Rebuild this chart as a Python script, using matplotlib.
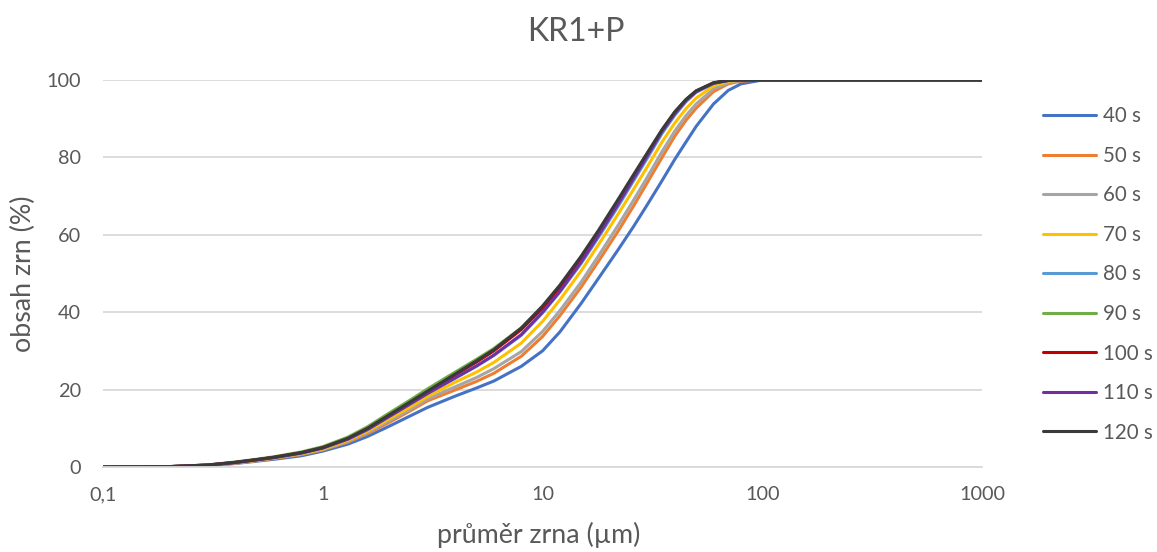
import matplotlib
matplotlib.use("Agg")
import matplotlib.pyplot as plt
from matplotlib.ticker import FixedLocator, FixedFormatter, NullLocator

plt.rcParams['font.family'] = ['Lato', 'DejaVu Sans']

title = "KR1+P"
x_label = "průměr zrna (µm)"
y_label = "obsah zrn (%)"

diameter = [0.1, 0.2, 0.3, 0.4, 0.5, 0.6, 0.8, 1, 1.3, 1.6, 2, 2.5, 3, 4, 5, 6, 8, 10,
            12, 15, 18, 22, 26, 30, 35, 40, 45, 50, 60, 70, 80, 100, 1000]

s40 = [0.0, 0.05, 0.35, 0.9, 1.5, 2.0, 2.9, 4.1, 5.9, 7.9, 10.5, 13.2, 15.4, 18.3, 20.4, 22.2, 26.0, 30.0,
       34.9, 42.3, 48.8, 56.0, 62.2, 67.8, 74.0, 79.5, 84.0, 88.0, 93.8, 97.3, 99.0, 100, 100]
s50 = [0.0, 0.07, 0.4, 1.0, 1.6, 2.2, 3.2, 4.4, 6.4, 8.6, 11.5, 14.5, 17.1, 19.9, 22.1, 24.2, 28.6, 33.7,
       39.1, 46.5, 53.2, 60.8, 67.5, 73.5, 80.0, 85.5, 89.6, 92.7, 97.0, 99.0, 99.7, 100, 100]
s60 = [0.0, 0.08, 0.4, 1.05, 1.7, 2.3, 3.3, 4.5, 6.6, 8.9, 11.9, 14.9, 17.6, 20.7, 23.1, 25.4, 29.8, 35.0,
       40.4, 47.8, 54.6, 62.3, 69.0, 74.9, 81.5, 86.8, 90.8, 93.8, 97.7, 99.3, 99.9, 100, 100]
s70 = [0.0, 0.08, 0.45, 1.1, 1.75, 2.35, 3.45, 4.65, 6.9, 9.3, 12.4, 15.5, 18.2, 21.9, 24.5, 27.0, 32.0, 37.6,
       43.2, 50.7, 57.5, 65.2, 71.8, 77.6, 84.0, 88.9, 92.6, 95.3, 98.5, 99.6, 100, 100, 100]
s80 = [0.0, 0.1, 0.5, 1.15, 1.85, 2.45, 3.6, 4.9, 7.2, 9.7, 13.0, 16.3, 19.0, 22.9, 26.0, 28.8, 34.0, 39.8,
       45.2, 52.6, 59.4, 67.2, 74.0, 79.8, 86.2, 90.9, 94.4, 96.8, 99.1, 99.8, 100, 100, 100]
s90 = [0.0, 0.1, 0.55, 1.3, 2.0, 2.65, 3.9, 5.25, 7.7, 10.4, 13.9, 17.3, 20.2, 24.5, 27.8, 30.6, 35.9, 41.3,
       46.6, 54.1, 60.8, 68.6, 75.2, 80.9, 87.0, 91.6, 94.9, 97.1, 99.2, 99.9, 100, 100, 100]
s100 = [0.0, 0.1, 0.5, 1.2, 1.9, 2.5, 3.7, 5.0, 7.3, 9.9, 13.3, 16.6, 19.4, 23.8, 27.1, 30.0, 35.5, 41.1,
        46.5, 54.0, 60.7, 68.5, 75.2, 80.9, 87.0, 91.6, 94.9, 97.1, 99.2, 99.9, 100, 100, 100]
s110 = [0.0, 0.1, 0.5, 1.15, 1.85, 2.45, 3.6, 4.9, 7.2, 9.7, 13.0, 16.3, 19.0, 23.0, 26.1, 28.9, 34.2, 40.0,
        45.4, 53.0, 59.9, 67.8, 74.6, 80.4, 86.7, 91.3, 94.7, 97.0, 99.2, 99.9, 100, 100, 100]
s120 = [0.0, 0.1, 0.5, 1.2, 1.9, 2.5, 3.7, 5.0, 7.4, 10.0, 13.4, 16.8, 19.6, 24.0, 27.4, 30.3, 35.9, 41.6,
        47.0, 54.5, 61.2, 69.0, 75.6, 81.2, 87.2, 91.8, 95.0, 97.2, 99.3, 99.9, 100, 100, 100]

series_labels = ["40 s", "50 s", "60 s", "70 s", "80 s", "90 s", "100 s", "110 s", "120 s"]
series_values = [s40, s50, s60, s70, s80, s90, s100, s110, s120]
colors = ["#4472C4", "#ED7D31", "#A5A5A5", "#FFC000", "#5B9BD5", "#70AD47",
          "#C00000", "#7030A0", "#3A3A3A"]

x_ticks = [0.1, 1, 10, 100, 1000]
x_tick_labels = ["0,1", "1", "10", "100", "1000"]
y_ticks = [0, 20, 40, 60, 80, 100]

W, H = 1157, 552
fig = plt.figure(figsize=(W / 100, H / 100), dpi=100)
ax = fig.add_axes([103 / W, 1 - 467 / H, (982 - 103) / W, (467 - 80) / H])

for lab, vals, col in zip(series_labels, series_values, colors):
    ax.plot(diameter, vals, color=col, lw=2.2, label=lab, solid_capstyle='round',
            solid_joinstyle='round')

ax.set_xscale('log')
ax.set_xlim(0.1, 1000)
ax.set_ylim(0, 100)
ax.xaxis.set_major_locator(FixedLocator(x_ticks))
ax.xaxis.set_major_formatter(FixedFormatter(x_tick_labels))
ax.xaxis.set_minor_locator(NullLocator())
ax.set_yticks(y_ticks)

ax.grid(axis='y', color='#D9D9D9', lw=1.3)
ax.set_axisbelow(True)
for side in ['top', 'right', 'left']:
    ax.spines[side].set_visible(False)
ax.spines['bottom'].set_color('#D9D9D9')
ax.spines['bottom'].set_linewidth(1.3)
ax.tick_params(axis='both', length=0, labelsize=14.3, colors='#595959')
ax.tick_params(axis='x', pad=14)
ax.tick_params(axis='y', pad=16)

fig.text(539 / W, 1 - 535 / H, x_label, ha='center', va='center', fontsize=19.3, color='#595959')
fig.text(23 / W, 1 - 274 / H, y_label, ha='center', va='center', rotation=90,
         fontsize=19.3, color='#595959')
fig.text(576 / W, 1 - 32 / H, title, ha='center', va='center', fontsize=23, color='#595959')

leg = fig.legend(loc='center left', bbox_to_anchor=(1043 / W, 1 - 274.5 / H), frameon=False,
                 fontsize=14.8, handlelength=2.6, handletextpad=0.3, labelspacing=0.95,
                 borderaxespad=0, borderpad=0)
for t in leg.get_texts():
    t.set_color('#595959')

fig.savefig("out.png", dpi=100)
